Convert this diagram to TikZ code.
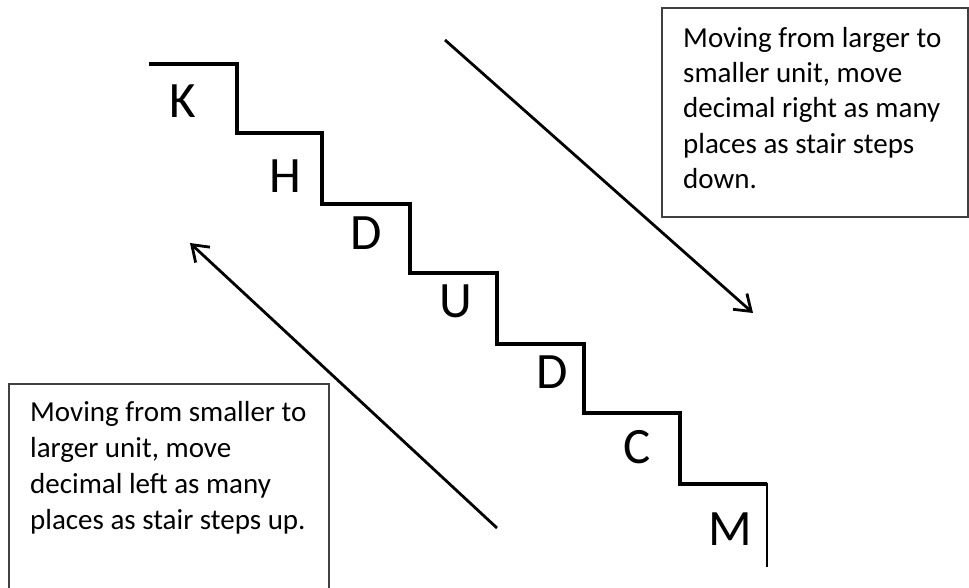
\documentclass[tikz,border=0pt]{standalone}
\usepackage{fontspec}
\setmainfont{Carlito}
\usetikzlibrary{arrows.meta}
\begin{document}
\begin{tikzpicture}[x=1pt,y=-1pt,
  stair/.style={line width=3.6pt, line join=miter},
  letter/.style={anchor=base, inner sep=0pt, font=\fontsize{51}{51}\selectfont},
  bigarrow/.style={line width=2.8pt, -{Straight Barb[length=15pt,width=21pt,line width=2.8pt]}},
  notebox/.style={draw=black!75, line width=1.3pt},
  notetext/.style={anchor=north west, inner sep=0pt, align=left}]
\useasboundingbox (0,0) rectangle (969,588);
% staircase
\draw[stair] (149,64) -- (237,64) -- (237,133) -- (322,133) -- (322,204) -- (410,204) -- (410,273)
  -- (497,273) -- (497,344) -- (584,344) -- (584,413) -- (680,413) -- (680,484) -- (767,484);
\draw[line width=2.4pt] (767,482.5) -- (767,567);
% letters
\node[letter] (k) at (183,118) {K};
\node[letter] (h) at (285,193) {H};
\node[letter] (d1) at (366,250) {D};
\node[letter] (u) at (456,317) {U};
\node[letter] (d2) at (552,388) {D};
\node[letter] (c) at (637,463) {C};
\node[letter] (m) at (730,545) {M};
% arrows
\coordinate (a1s) at (445,40);
\coordinate (a1e) at (753,313);
\coordinate (a2s) at (497,528);
\coordinate (a2e) at (190,243);
\draw[bigarrow] (a1s) -- (a1e);
\draw[bigarrow] (a2s) -- (a2e);
% boxes
\draw[notebox] (968,217) -- (662,217) -- (662,8) -- (968,8) -- cycle;
\draw[notebox] (9,590) -- (9,384) -- (329,384) -- (329,590);
\node[notetext, font=\fontsize{29}{35.3}\selectfont] (t1) at (683,27) {Moving from larger to\\smaller unit, move\\decimal right as many\\places as stair steps\\down.};
\node[notetext, font=\fontsize{29}{36}\selectfont] (t2) at (30,401) {Moving from smaller to\\larger unit, move\\decimal left as many\\places as stair steps up.};
\end{tikzpicture}
\end{document}
